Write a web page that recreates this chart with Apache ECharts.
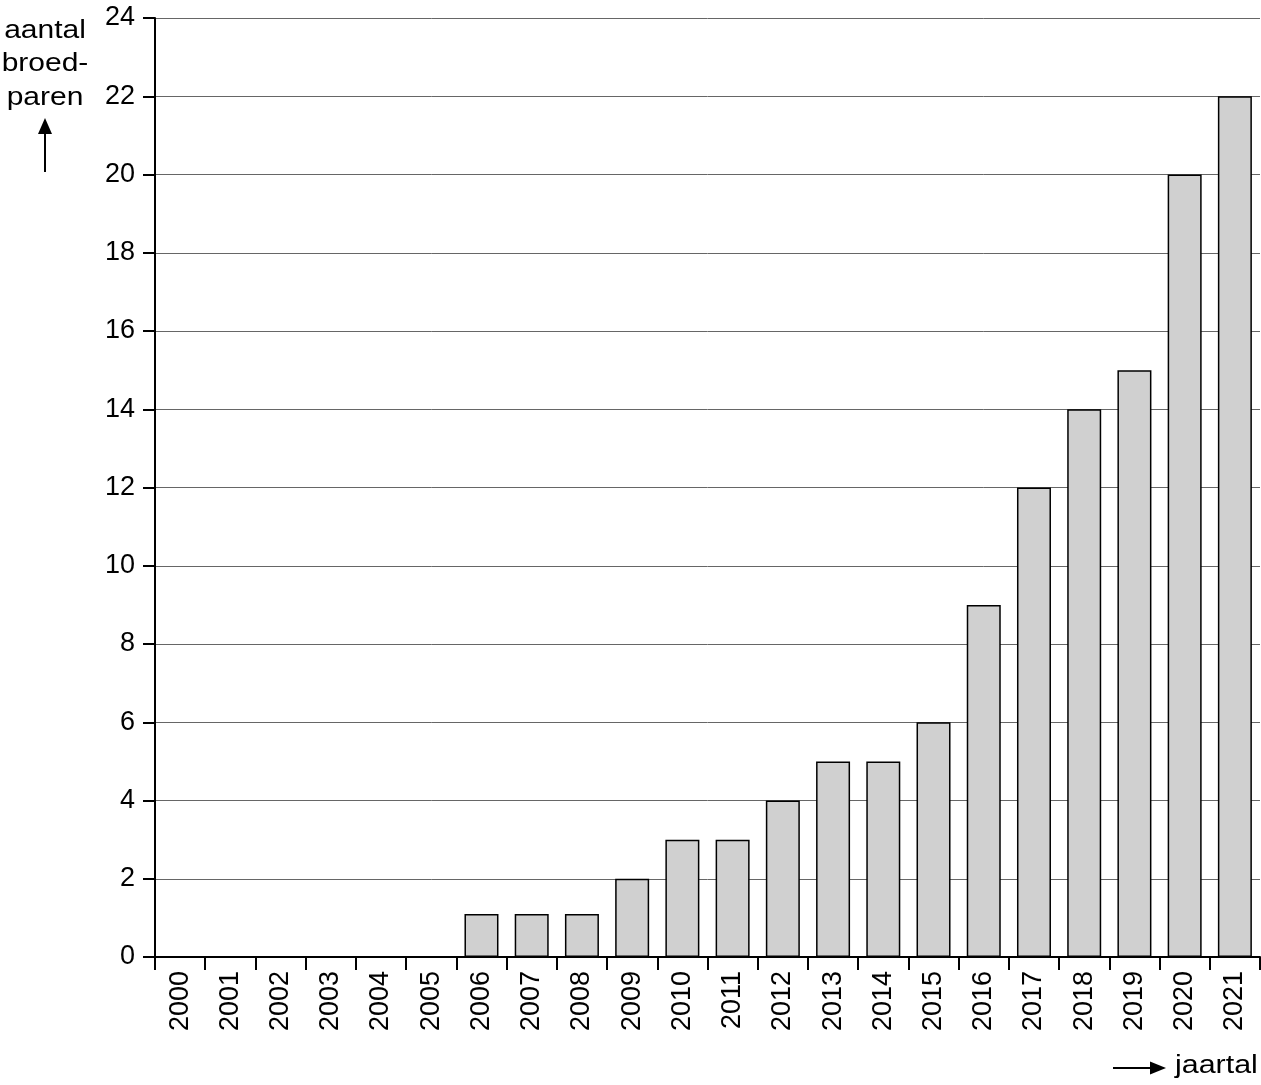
<!DOCTYPE html>
<html>
<head>
<meta charset="utf-8">
<script src="https://cdn.jsdelivr.net/npm/echarts@6/dist/echarts.min.js"></script>
<style>
html,body{margin:0;padding:0;background:#fff;}
#chart{width:1261px;height:1085px;}
</style>
</head>
<body>
<div id="chart"></div>
<script>
const years = ['2000','2001','2002','2003','2004','2005','2006','2007','2008','2009','2010','2011','2012','2013','2014','2015','2016','2017','2018','2019','2020','2021'];
const pairs = [0,0,0,0,0,0,1.1,1.1,1.1,2,3,3,4,5,5,6,9,12,14,15,20,22];
const yMin = 0, yMax = 24, yStep = 2;
const yTitle = ['aantal','broed-','paren'];
const xTitle = 'jaartal';

const FONT = '"Liberation Sans", Arial, sans-serif';
const chart = echarts.init(document.getElementById('chart'), null, {renderer:'canvas'});
chart.setOption({
  animation:false,
  backgroundColor:'#fff',
  grid:{left:155, right:1, top:18, bottom:128, containLabel:false},
  xAxis:{
    type:'category', data:years, boundaryGap:true,
    axisLine:{show:true, lineStyle:{color:'#000', width:2}},
    axisTick:{show:true, alignWithLabel:false, length:13, lineStyle:{color:'#000', width:2}},
    axisLabel:{rotate:90, margin:14, fontFamily:FONT, fontSize:27, color:'#000', interval:0},
    splitLine:{show:false}
  },
  yAxis:{
    type:'value', min:yMin, max:yMax, interval:yStep,
    axisLine:{show:true, lineStyle:{color:'#000', width:2}},
    axisTick:{show:true, length:12, lineStyle:{color:'#000', width:2}},
    axisLabel:{margin:20, fontFamily:FONT, fontSize:27, color:'#000'},
    splitLine:{show:true, lineStyle:{color:'#666', width:1}}
  },
  series:[{
    type:'bar', data:pairs, barWidth:34,
    itemStyle:{color:'#d0d0d0', borderColor:'#000', borderWidth:1.5}
  }],
  graphic:[
    {type:'text', x:45, y:14, scaleX:1.2, style:{text:yTitle.join('\n'), x:0, y:0, align:'center', verticalAlign:'top', fill:'#000', font:'25px ' + FONT, lineHeight:33.5}},
    {type:'line', shape:{x1:45, y1:172, x2:45, y2:130}, style:{stroke:'#000', lineWidth:2}},
    {type:'polygon', shape:{points:[[45,118],[38,134],[52,134]]}, style:{fill:'#000'}},
    {type:'line', shape:{x1:1113, y1:1068, x2:1152, y2:1068}, style:{stroke:'#000', lineWidth:2}},
    {type:'polygon', shape:{points:[[1166,1068],[1150,1061.5],[1150,1074.5]]}, style:{fill:'#000'}},
    {type:'text', x:1175, y:1053, scaleX:1.17, style:{text:xTitle, x:0, y:0, verticalAlign:'top', fill:'#000', font:'26px ' + FONT}}
  ]
});
</script>
</body>
</html>
